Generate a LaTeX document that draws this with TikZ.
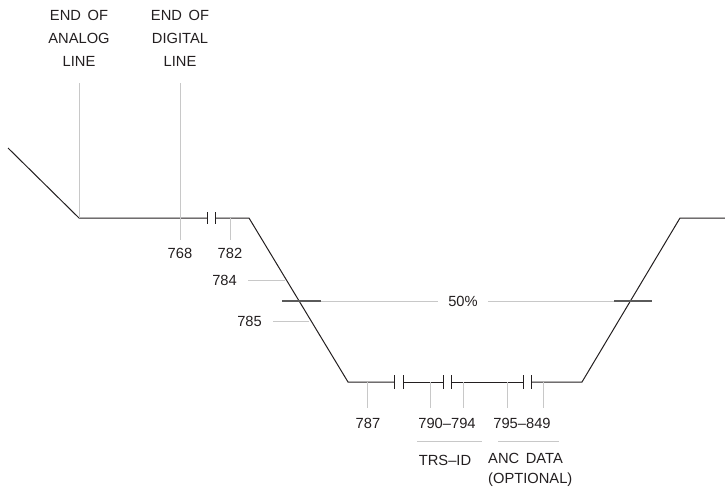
\documentclass[tikz,border=0pt]{standalone}
\usepackage{fontspec}
\setmainfont{Liberation Sans}
\usetikzlibrary{positioning, calc}
\definecolor{waveBlack}{HTML}{231F20}
\definecolor{leaderGray}{HTML}{C8C8C8}
\definecolor{markGray}{HTML}{5A5A5A}

\begin{document}
\begin{tikzpicture}[x=1pt, y=-1pt,
    wave/.style={draw=waveBlack, line width=1pt},
    tickMark/.style={draw=waveBlack, line width=1pt},
    leader/.style={draw=leaderGray, line width=1pt},
    halfMark/.style={draw=markGray, line width=1.6pt},
    lbl/.style={font=\fontsize{14.7}{23}\selectfont, text=waveBlack, align=center, inner sep=3pt},
]
\useasboundingbox (0,0) rectangle (725,487);

% waveform corners
\coordinate (w0) at (8,148);
\coordinate (w1) at (79,218);
\coordinate (w2) at (249,218);
\coordinate (w3) at (348,382);
\coordinate (w4) at (582,382);
\coordinate (w5) at (680,218);
\coordinate (w6) at (725,218);

\draw[wave] (w0) -- (w1) -- (207,218);
\draw[wave] (215,218) -- (w2) -- (w3) -- (394,382);
\draw[wave] (403,382) -- (443,382);
\draw[wave] (451,382) -- (523,382);
\draw[wave] (531,382) -- (w4) -- (w5) -- (w6);
\foreach \x in {207,215} \draw[tickMark] (\x,212) -- (\x,224);
\foreach \x in {394,403,443,451,523,531} \draw[tickMark] (\x,375) -- (\x,389);

% top labels
\node[lbl] (lblAnalog) at (79,38) {END\hspace{0.45em}OF\\ANALOG\\LINE};
\node[lbl] (lblDigital) at (180,38) {END\hspace{0.45em}OF\\DIGITAL\\LINE};
\node[lbl] (lbl768) at (180,253) {768};
\node[lbl] (lbl782) at (230,253) {782};
\coordinate (t782) at (230,218);
\draw[leader, shorten <=14pt] (lblAnalog.south) -- (w1);
\draw[leader, shorten <=14pt, shorten >=5pt] (lblDigital.south) -- (lbl768.north);
\draw[leader, shorten >=5pt] (t782) -- (lbl782.north);

% falling edge
\node[lbl, anchor=east] (lbl784) at (240,280) {784};
\node[lbl, anchor=east] (lbl785) at (265,321) {785};
\coordinate (t784) at (285,280);
\coordinate (t785) at (309,321);
\draw[leader, shorten <=8pt] (lbl784.east) -- (t784);
\draw[leader, shorten <=8pt] (lbl785.east) -- (t785);

% 50% level
\node[lbl] (lbl50) at (463,301) {50\%};
\coordinate (h1) at (282,301);
\coordinate (h2) at (321,301);
\coordinate (h3) at (614,301);
\coordinate (h4) at (652,301);
\draw[leader, shorten >=7pt] (h2) -- (lbl50.west);
\draw[leader, shorten <=7pt] (lbl50.east) -- (h3);
\draw[halfMark] (h1) -- (h2);
\draw[halfMark] (h3) -- (h4);

% bottom labels
\node[lbl] (lbl787) at (368,423) {787};
\node[lbl] (lbl790) at (447,423) {790–794};
\node[lbl] (lbl795) at (522,423) {795–849};
\foreach \x/\name in {367/lbl787, 430/lbl790, 463/lbl790, 507/lbl795, 543/lbl795}{
  \coordinate (tk) at (\x,382);
  \draw[leader, shorten >=7pt] (tk) -- (tk |- \name.north);
}
\node[lbl] (lblTrs) at (445,460) {TRS–ID};
\node[lbl, font=\fontsize{14.7}{20}\selectfont, align=left, anchor=west] (lblAnc) at (485,470) {ANC\hspace{0.45em}DATA\\(OPTIONAL)};
\draw[leader] (417,441) -- (482,441);
\draw[leader] (498,441) -- (559,441);
\end{tikzpicture}
\end{document}
